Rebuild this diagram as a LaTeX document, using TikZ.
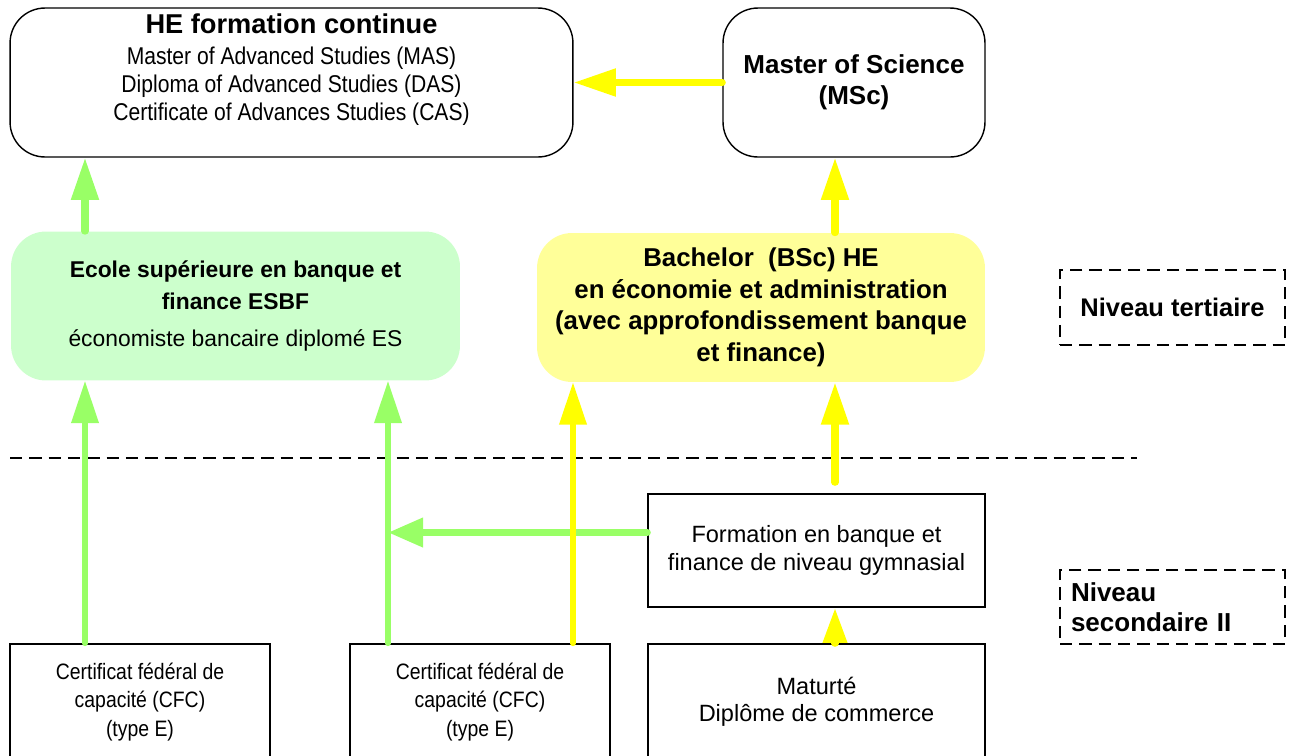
\documentclass[tikz,border=0pt]{standalone}
\usepackage{fontspec}
\setmainfont{Liberation Sans}
\newfontfamily\narrowsans[FakeStretch=0.87]{Liberation Sans}
\usepackage{tikz}
\usetikzlibrary{arrows.meta}
\definecolor{esgreen}{HTML}{CCFFCC}
\definecolor{hesyellow}{HTML}{FFFF99}
\definecolor{arrgreen}{HTML}{99FF66}
\definecolor{arryellow}{HTML}{FFFF00}

\begin{document}
\begin{tikzpicture}[x=0.02cm,y=-0.02cm,
	roundbox/.style={draw,line width=0.8pt,rounded corners=0.7cm,minimum height=2.98cm,align=center,inner sep=0pt},
	fillbox/.style={rounded corners=0.7cm,minimum height=2.98cm,align=center,inner sep=0pt},
	plainbox/.style={draw,line width=0.8pt,align=center,inner sep=0pt},
	dashbox/.style={draw,line width=0.7pt,dash pattern=on 7pt off 4pt,minimum width=4.5cm},
	grnarrow/.style={arrgreen,line width=4pt,line cap=round,-{Triangle[length=24pt,width=15pt]}},
	ylwarrow/.style={arryellow,line width=4pt,line cap=round,-{Triangle[length=24pt,width=15pt]}}]
			\useasboundingbox (0,0) rectangle (1292,755);
			\clip (0,0) rectangle (1292,755);
			
			% niveau tertiaire
			\node[roundbox,minimum width=11.26cm] (he) at (291.5,82.5) {};
			\node[anchor=north,inner sep=0pt,align=center,font=\narrowsans\fontsize{13.8}{16}\selectfont] (hetxt) at ([yshift=-0.12cm]he.north)
				{{\rmfamily\bfseries\fontsize{15.5}{17}\selectfont HE formation continue}\\[1.5pt]
				Master of Advanced Studies (MAS)\\
				Diploma of Advanced Studies (DAS)\\
				Certificate of Advances Studies (CAS)};
			\node[roundbox,minimum width=5.24cm,font=\bfseries\fontsize{14.8}{17.6}\selectfont] (msc) at (854,82.5) {Master of Science\\(MSc)};
			\node[fillbox,fill=esgreen,minimum width=8.98cm,font=\fontsize{13}{18}\selectfont] (esbf) at (235.5,306)
				{\textbf{Ecole supérieure en banque et}\\\textbf{finance ESBF}\\[3pt]économiste bancaire diplomé ES};
			\node[fillbox,fill=hesyellow,minimum width=8.96cm,font=\bfseries\fontsize{14.7}{18}\selectfont] (bsc) at (761,307.5)
				{Bachelor\ \ (BSc) HE\\en économie et administration\\(avec approfondissement banque\\et finance)};
			\node[dashbox,minimum height=1.5cm,font=\bfseries\fontsize{14.5}{17}\selectfont] (tert) at (1172.5,307.5) {Niveau tertiaire};
			
			\draw[line width=0.7pt,dash pattern=on 7pt off 4pt] (10,458) -- (1137,458);
			
			% niveau secondaire II
			\node[plainbox,minimum width=6.74cm,minimum height=2.26cm,font=\fontsize{13.4}{16}\selectfont] (form) at (816.5,550.5)
				{Formation en banque et\\finance de niveau gymnasial};
			\node[dashbox,minimum height=1.48cm,text width=4.06cm,inner xsep=0.22cm,align=left,font=\bfseries\fontsize{14.8}{17}\selectfont] (sec) at (1172.5,607)
				{Niveau\\secondaire II};
			\node[plainbox,minimum width=5.2cm,minimum height=2.32cm,font=\narrowsans\fontsize{12.7}{16.4}\selectfont] (cfca) at (140,702)
				{Certificat fédéral de\\capacité (CFC)\\(type E)};
			\node[plainbox,minimum width=5.2cm,minimum height=2.32cm,font=\narrowsans\fontsize{12.7}{16.4}\selectfont] (cfcb) at (480,702)
				{Certificat fédéral de\\capacité (CFC)\\(type E)};
			\node[plainbox,minimum width=6.74cm,minimum height=2.32cm,font=\fontsize{13.4}{15.3}\selectfont] (mat) at (816.5,702)
				{Maturté\\Diplôme de commerce};
			
			% lanes
			\coordinate (laneA) at (85,0);
			\coordinate (laneB) at (388,0);
			\coordinate (laneC) at (573,0);
			\coordinate (laneD) at (835,0);
			\coordinate (gymout) at ([yshift=0.36cm]form.west);
			
			\draw[ylwarrow] (msc.west) -- (he.east);
			\draw[grnarrow] (esbf.north -| laneA) -- (he.south -| laneA);
			\draw[ylwarrow] (bsc.north -| laneD) -- (msc.south -| laneD);
			\draw[grnarrow,line width=3.2pt] (cfca.north -| laneA) -- (esbf.south -| laneA);
			\draw[grnarrow,line width=3.2pt] (cfcb.north -| laneB) -- (esbf.south -| laneB);
			\draw[grnarrow,-{Triangle[length=20pt,width=16pt]}] (gymout) -- (gymout -| laneB);
			\draw[ylwarrow,line width=3.2pt] (cfcb.north -| laneC) -- (bsc.south -| laneC);
			\draw[ylwarrow,shorten <=0.22cm] (form.north -| laneD) -- (bsc.south -| laneD);
			\draw[ylwarrow,-{Triangle[length=20pt,width=13pt]}] (mat.north -| laneD) -- (form.south -| laneD);
		\end{tikzpicture}
\end{document}
